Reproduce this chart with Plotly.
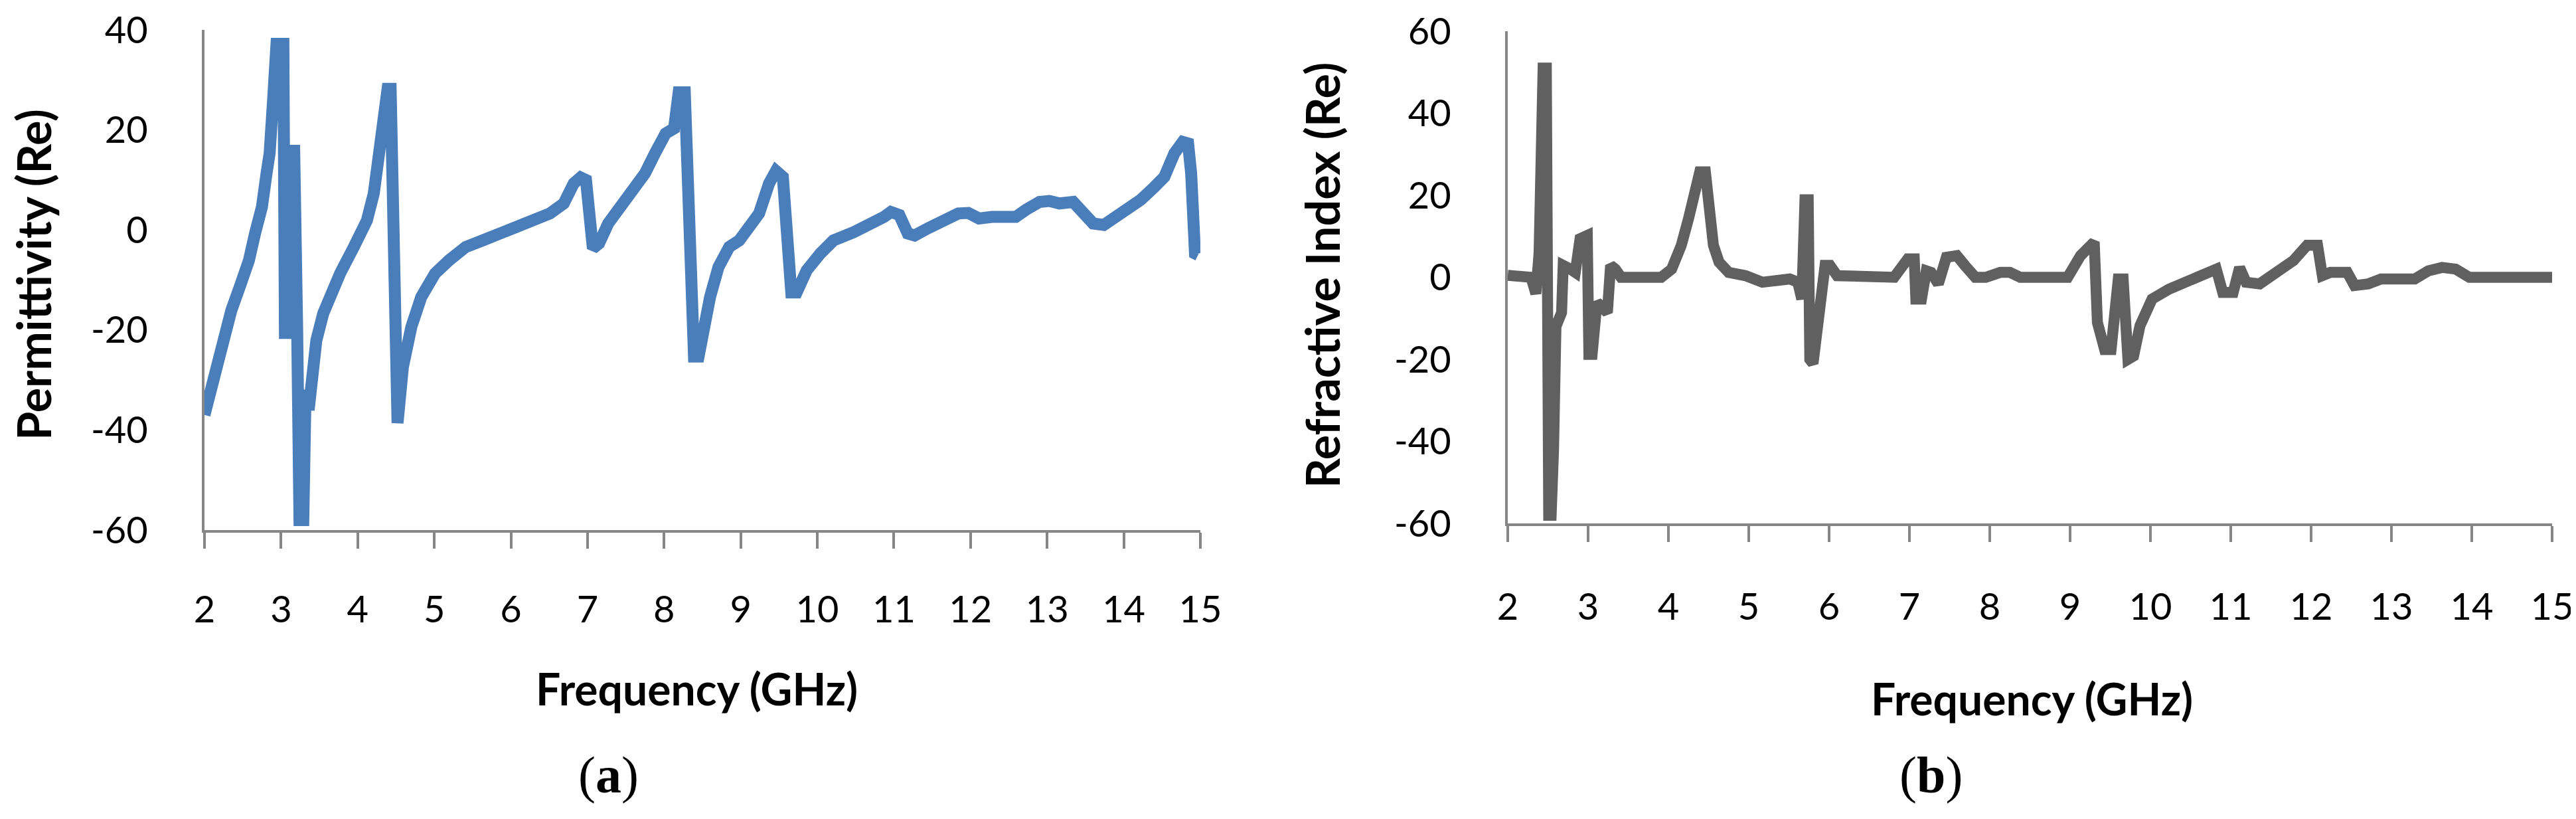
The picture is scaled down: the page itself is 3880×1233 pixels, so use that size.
import plotly.graph_objects as go

# ---------------- data ----------------
freq_a = [2.00, 2.09, 2.18, 2.27, 2.35, 2.46, 2.58, 2.66, 2.75, 2.81, 2.85, 2.89, 2.94, 3.03,
          3.05, 3.10, 3.14, 3.17, 3.21, 3.24, 3.29, 3.32, 3.36, 3.42, 3.46, 3.55, 3.64, 3.77,
          3.95, 4.12, 4.21, 4.28, 4.32, 4.39, 4.43, 4.48, 4.52, 4.59, 4.70, 4.83, 5.01, 5.19,
          5.41, 5.63, 5.85, 6.07, 6.29, 6.51, 6.69, 6.82, 6.91, 6.98, 7.07, 7.15, 7.27, 7.40,
          7.58, 7.75, 7.88, 8.02, 8.13, 8.19, 8.27, 8.33, 8.39, 8.45, 8.49, 8.60, 8.71, 8.85,
          8.98, 9.11, 9.24, 9.37, 9.46, 9.55, 9.59, 9.66, 9.73, 9.86, 10.04, 10.21, 10.48,
          10.70, 10.87, 10.96, 11.07, 11.18, 11.27, 11.44, 11.67, 11.84, 11.97, 12.11, 12.28,
          12.46, 12.59, 12.72, 12.90, 13.03, 13.16, 13.34, 13.47, 13.60, 13.74, 13.87, 14.04,
          14.22, 14.40, 14.53, 14.66, 14.77, 14.84, 14.88, 14.93, 14.97]
permittivity_re = [-37, -31.4, -26.1, -20.7, -16.1, -11.4, -6.1, -0.7, 4.6, 11.3, 15.3, 24.6, 37.2, 37.2,
                   -20.6, -20.6, 17, 17, -20, -58, -58, -32, -36, -27.4, -22.1, -16.7, -12.7, -8.7,
                   -3.4, 1.9, 7.3, 14.0, 20.6, 28.2, 28.2, -23.4, -38.6, -27.4, -19.4, -13.4, -8.7, -6.1,
                   -3.4, -2.1, -0.7, 0.6, 1.9, 3.3, 5.3, 9.3, 10.5, 10.0, -3.7, -2.7, 1.3, 4.0,
                   7.3, 11.3, 15.3, 19.3, 20.3, 27.5, 27.5, -10, -25.3, -25.3, -22, -13.4, -7.4, -3.4,
                   -2.1, 0.6, 3.3, 9.3, 11.8, 10.6, 1.9, -12.5, -12.5, -8.1, -4.7, -2.1, -0.4,
                   1.0, 2.6, 3.6, 3.0, -0.7, -1.1, 0.3, 2.3, 3.3, 3.4, 2.3, 2.6,
                   2.5, 2.6, 4.0, 5.6, 5.8, 5.3, 5.6, 3.3, 1.3, 1.0, 2.3, 4.3,
                   6.0, 8.6, 10.6, 15.3, 17.6, 17.3, 11.3, -4.7, -5]

freq_b = [2.00, 2.15, 2.29, 2.35, 2.39, 2.44, 2.48, 2.51, 2.54, 2.57, 2.60, 2.67, 2.69, 2.78,
          2.84, 2.90, 2.99, 3.01, 3.05, 3.11, 3.20, 3.24, 3.28, 3.34, 3.41, 3.91, 4.04, 4.16,
          4.25, 4.33, 4.39, 4.46, 4.52, 4.56, 4.63, 4.75, 4.96, 5.17, 5.51, 5.61, 5.66, 5.70,
          5.74, 5.76, 5.80, 5.87, 5.91, 5.95, 6.01, 6.10, 6.81, 6.98, 7.06, 7.08, 7.15, 7.21,
          7.27, 7.36, 7.46, 7.59, 7.69, 7.82, 7.95, 8.13, 8.25, 8.38, 8.97, 9.13, 9.30, 9.34,
          9.43, 9.51, 9.60, 9.66, 9.72, 9.79, 9.87, 10.02, 10.23, 10.44, 10.65, 10.82, 10.90,
          11.03, 11.11, 11.19, 11.36, 11.57, 11.78, 11.95, 12.08, 12.14, 12.24, 12.45, 12.54,
          12.71, 12.87, 13.29, 13.46, 13.63, 13.80, 13.97, 15.00]
refractive_re = [0.5, 0.3, 0, -4, 6, 51, 51, -58, -58, -42, -12, -8.6, 2.9, 2.0,
                 1.2, 9.4, 10.2, -18.8, -18.8, -6.1, -8.6, -8.6, 2.9, 2.0, 0, 0, 2.0, 7.8,
                 14.3, 20.8, 25.7, 25.7, 15.9, 7.8, 3.7, 1.2, 0.4, -1.2, -0.4, -1.2, -5.3, 18.9,
                 18.9, -20, -21, -8.6, -6.1, 2.9, 2.9, 0.4, 0, 4.5, 4.5, -5.3, -5.3, 1.6,
                 1.2, -1.6, 4.9, 5.3, 2.9, 0, 0, 1.2, 1.2, 0, 0, 5.3, 8.6, -11,
                 -17.6, -17.6, -0.4, -0.4, -20, -19.2, -11.8, -5.3, -2.9, -1.2, 1.2, 2.0, -3.7,
                 -3.7, 2.4, -1.2, -1.6, 1.2, 4.1, 7.8, 7.8, 0.4, 1.2, 1.2, -2.0,
                 -1.6, -0.4, -0.4, 1.6, 2.4, 2.0, 0, 0]

x_ticks = list(range(2, 16))
x_ticktext = [str(v) for v in x_ticks]
ya_ticks = [40, 20, 0, -20, -40, -60]
ya_ticktext = ["40", "20", "0", "-20", "-40", "-60"]
yb_ticks = [60, 40, 20, 0, -20, -40, -60]
yb_ticktext = ["60", "40", "20", "0", "-20", "-40", "-60"]

# ---------------- figure ----------------
W, H = 3880, 1233
AX = "#868686"
tickfont = dict(family="Lato", size=56, color="black")

fig = go.Figure()
fig.add_trace(go.Scatter(x=freq_a, y=permittivity_re, mode="lines",
                         line=dict(color="#4A7EBB", width=18), xaxis="x", yaxis="y",
                         hoverinfo="skip"))
fig.add_trace(go.Scatter(x=freq_b, y=refractive_re, mode="lines",
                         line=dict(color="#606060", width=16.5), xaxis="x2", yaxis="y2",
                         hoverinfo="skip"))

def xax(dom, anchor, standoff):
    return dict(domain=dom, range=[2, 15], anchor=anchor, tickmode="array",
                tickvals=x_ticks, ticktext=x_ticktext, showline=True, linecolor=AX,
                linewidth=4, ticks="outside", ticklen=24, tickwidth=4, tickcolor=AX,
                showgrid=False, zeroline=False, tickfont=tickfont,
                ticklabelstandoff=standoff, ticklabeloverflow="allow")

def yax(dom, rng, tv, tt, anchor):
    return dict(domain=dom, range=rng, anchor=anchor, tickmode="array", tickvals=tv,
                ticktext=tt, showline=True, linecolor=AX, linewidth=4, ticks="",
                showgrid=False, zeroline=False, tickfont=tickfont, ticklabelstandoff=70,
                ticklabeloverflow="allow")

fig.update_layout(
    width=W, height=H, margin=dict(l=0, r=0, t=0, b=0, pad=0, autoexpand=False),
    paper_bgcolor="white", plot_bgcolor="white", showlegend=False,
    xaxis=xax([300 / W, 1800 / W], "y", 44),
    yaxis=yax([1 - 790 / H, 1 - 37 / H], [-60, 40], ya_ticks, ya_ticktext, "x"),
    xaxis2=xax([2263 / W, 3836 / W], "y2", 50),
    yaxis2=yax([1 - 780 / H, 1 - 39 / H], [-60, 60], yb_ticks, yb_ticktext, "x2"),
)

title_font = dict(family="Lato", size=66, color="black")
ytitle_font = dict(family="Lato", size=70, color="black")
serif = dict(family="Liberation Serif", size=78, color="black")
ann = [
    dict(text="<b>Permittivity (Re)</b>", x=42 / W, y=1 - 406 / H, textangle=-90, font=ytitle_font),
    dict(text="<b>Refractive Index (Re)</b>", x=1983 / W, y=1 - 406 / H, textangle=-90, font=ytitle_font),
    dict(text="<b>Frequency (GHz)</b>", x=1041 / W, y=1 - 1028 / H, font=title_font),
    dict(text="<b>Frequency (GHz)</b>", x=3052 / W, y=1 - 1043 / H, font=title_font),
    dict(text="(<b>a</b>)", x=908 / W, y=1 - 1158 / H, font=serif),
    dict(text="(<b>b</b>)", x=2900 / W, y=1 - 1158 / H, font=serif),
]
for a in ann:
    a.update(xref="paper", yref="paper", xanchor="center", yanchor="middle", showarrow=False)
fig.update_layout(annotations=ann)

fig.write_html("out.html")
